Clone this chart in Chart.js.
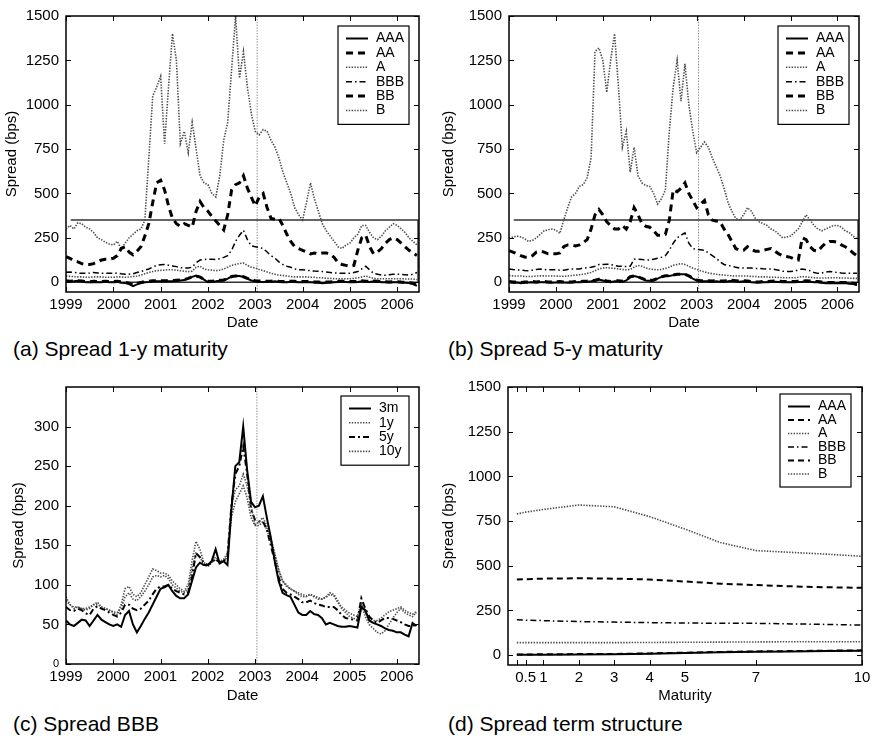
<!DOCTYPE html>
<html>
<head>
<meta charset="utf-8">
<script src="https://cdn.jsdelivr.net/npm/chart.js@4.4.1/dist/chart.umd.min.js"></script>
<style>
    body { margin: 0; background: #fff; width: 875px; height: 738px; position: relative; overflow: hidden; }
    canvas { position: absolute; }
    .caption { position: absolute; font-family: 'Liberation Sans', Arial, sans-serif; font-size: 21px; line-height: 24px; color: #000; white-space: nowrap; }
</style>
</head>
<body>
<canvas id="chartA" width="437" height="335" style="left:0;top:0"></canvas>
<canvas id="chartB" width="438" height="335" style="left:437px;top:0"></canvas>
<canvas id="chartC" width="437" height="338" style="left:0;top:370px"></canvas>
<canvas id="chartD" width="438" height="338" style="left:437px;top:370px"></canvas>
<div class="caption" style="left:13px;top:337px">(a) Spread 1-y maturity</div>
<div class="caption" style="left:448px;top:337px">(b) Spread 5-y maturity</div>
<div class="caption" style="left:13px;top:712px">(c) Spread BBB</div>
<div class="caption" style="left:448px;top:712px">(d) Spread term structure</div>
<script>
// ---- data (monthly, Jan 1999 - Jun 2006) ----
const startYear = 1999;
const monthCount = 90;
const yearTicks = [1999, 2000, 2001, 2002, 2003, 2004, 2005, 2006];
const spreadTicks = [0, 250, 500, 750, 1000, 1250, 1500];
const bbbTicks = [0, 50, 100, 150, 200, 250, 300];
const eventDate = 2003.04;
const zoomBoxX = [1999.1, 2006.44, 2006.44, 1999.0];
const zoomBoxY = [350, 350, 0, 0];

// (a) 1-y maturity
const aAAA = [5,3,5,8,5,0,0,2,0,0,3,0,
    0,2,-3,-5,-10,-22,-12,-5,0,2,5,5,
    5,5,5,5,8,10,12,20,30,37,30,15,
    0,3,5,8,10,20,32,35,35,30,20,10,
    5,3,2,3,3,5,2,0,0,3,2,0,
    0,0,0,-2,-3,-5,-3,-2,0,2,3,2,
    0,0,2,5,3,2,5,3,0,0,-2,0,
    0,-2,-3,-5,-10,-20];
const aAA = [8,6,7,9,7,4,3,5,4,4,6,4,
    4,5,2,0,-5,-14,-6,-1,4,6,8,9,
    9,9,9,9,11,13,15,22,30,35,29,17,
    5,6,8,11,13,22,32,35,35,31,22,13,
    9,7,6,6,6,8,5,4,4,6,5,4,
    4,4,4,2,1,0,1,2,4,5,6,5,
    4,4,5,8,6,5,7,6,4,3,2,3,
    3,1,0,-2,-6,-14];
const aA = [35,33,32,30,30,28,28,30,30,30,28,28,
    28,30,30,28,30,32,35,40,48,55,60,65,
    67,68,70,70,68,65,62,60,62,85,90,75,
    70,68,65,68,75,85,95,100,105,108,95,85,
    80,72,65,58,50,45,40,38,35,32,30,30,
    30,30,28,28,25,25,22,22,20,20,20,20,
    20,22,25,30,35,28,22,20,20,20,20,20,
    20,20,18,18,18,15];
const aBBB = [56,58,55,52,50,50,52,55,52,50,50,50,
    50,52,48,45,45,48,55,60,68,75,85,95,
    98,100,96,92,88,82,80,80,85,110,125,128,
    130,130,128,132,140,150,180,230,265,293,240,205,
    200,195,190,170,150,135,115,100,90,85,75,70,
    70,68,65,63,62,60,58,55,52,52,50,50,
    50,55,60,75,90,70,50,45,40,40,42,45,
    45,44,42,40,45,55];
const aBB = [145,135,120,115,105,100,100,105,115,125,130,130,
    135,150,190,200,170,155,175,200,260,330,450,560,
    575,520,430,360,330,315,330,320,310,400,455,420,
    400,370,345,320,295,380,520,550,560,600,530,480,
    430,480,500,420,360,355,360,320,270,230,200,190,
    180,170,160,165,160,165,165,160,140,110,100,95,
    90,95,180,250,265,200,160,170,190,220,240,250,
    240,220,200,180,165,150];
const aB = [300,320,300,335,330,310,300,280,250,240,225,215,
    210,230,190,220,250,270,290,300,350,700,1050,1100,
    1160,780,1100,1400,1250,780,850,730,900,750,600,560,
    550,500,480,600,800,900,1200,1500,1150,1300,1100,950,
    850,830,860,850,800,760,700,620,560,500,420,380,
    350,450,560,470,400,330,290,260,230,200,190,210,
    220,250,270,320,320,280,250,240,260,290,310,330,
    320,300,280,250,230,210];

// (b) 5-y maturity
const bAAA = [0,-3,-2,-5,-3,-2,0,-2,0,0,-2,-3,
    -2,0,-2,-3,-2,0,0,2,3,5,8,15,
    10,3,0,5,5,2,10,30,35,30,20,10,
    8,10,20,30,35,35,40,45,45,45,35,20,
    10,5,5,5,3,5,3,3,5,8,5,3,
    5,3,0,-2,-2,0,0,2,3,2,0,0,
    0,0,2,3,5,3,0,0,-3,-5,-5,-5,
    -5,-5,-5,-8,-10,-15];
const bAA = [4,1,2,-1,1,2,4,2,4,4,2,1,
    2,4,2,1,2,4,4,6,7,9,11,17,
    13,7,4,8,8,6,13,31,35,31,22,13,
    11,13,22,31,36,36,41,45,45,45,36,23,
    13,9,9,9,7,9,7,7,9,11,9,7,
    9,7,4,2,2,4,4,6,7,6,4,4,
    4,4,6,7,9,7,4,4,1,-1,-1,-1,
    -1,-1,-1,-4,-6,-11];
const bA = [38,36,35,35,33,32,33,35,36,36,35,35,
    35,34,33,35,38,40,42,45,50,55,65,75,
    80,82,80,78,75,72,70,72,85,95,90,80,
    75,72,70,72,78,85,95,100,105,100,90,80,
    72,65,58,52,48,45,42,40,38,36,35,35,
    35,35,33,32,30,30,30,28,28,27,26,25,
    25,25,28,32,30,28,25,24,24,24,25,25,
    25,24,24,23,22,22];
const bBBB = [75,72,70,68,66,65,68,72,74,72,70,70,
    70,68,68,72,75,75,75,80,82,85,90,100,
    100,102,100,95,90,90,88,90,130,130,128,125,
    125,130,135,140,150,180,220,250,265,278,220,190,
    185,183,180,165,150,135,115,100,95,90,85,80,
    80,80,80,78,78,76,75,75,72,68,62,60,
    60,62,70,75,70,65,55,50,52,58,60,58,
    55,52,50,50,50,50];
const bBB = [178,170,160,150,142,140,150,170,175,170,160,160,
    160,165,200,210,210,205,210,225,240,300,380,410,
    380,340,320,300,300,320,300,340,420,380,330,315,
    310,290,265,265,270,350,520,510,530,560,500,460,
    420,440,460,380,350,345,340,300,270,230,190,180,
    180,200,185,175,175,180,185,190,175,160,150,145,
    140,130,125,250,240,200,180,175,200,220,230,230,
    225,210,200,185,165,150];
const bB = [247,255,260,255,245,230,235,250,270,290,295,300,
    293,275,350,420,480,500,540,550,590,700,1300,1320,
    1250,1070,1250,1400,1100,760,850,620,760,600,560,545,
    540,500,440,470,520,850,1100,1250,1020,1230,1000,850,
    730,760,790,760,700,650,600,530,450,400,360,350,
    380,420,400,360,340,330,320,300,290,270,250,255,
    260,280,300,340,380,350,320,300,290,300,310,320,
    320,310,290,280,260,245];

// (c) BBB by maturity
const c3m = [55,50,48,52,56,55,48,55,62,56,53,50,
    48,50,47,62,67,50,40,48,57,65,75,85,
    95,97,100,92,86,83,83,88,105,122,128,125,
    125,130,145,127,130,125,195,250,255,300,245,205,
    198,200,212,185,160,130,105,90,87,85,75,65,
    62,62,67,63,62,58,50,52,50,48,47,47,
    48,47,46,72,68,55,52,50,48,45,43,42,
    40,40,37,35,52,48];
const c1y = [85,75,70,72,70,68,70,75,78,72,70,68,
    65,62,75,95,98,88,85,90,100,110,120,118,
    115,115,112,105,100,95,92,100,130,155,145,128,
    125,130,135,130,132,140,200,220,225,240,225,200,
    175,180,185,175,160,140,120,105,100,95,92,88,
    85,85,88,85,82,82,85,90,88,80,70,65,
    60,58,55,75,60,50,45,40,38,42,50,58,
    65,70,65,62,60,65];
const c5y = [72,68,67,70,68,64,62,70,73,70,68,65,
    62,60,65,75,75,70,68,70,75,80,88,95,
    98,98,100,95,92,90,88,90,110,140,135,128,
    125,128,133,128,130,135,200,240,250,275,240,195,
    182,180,180,170,150,130,110,95,90,88,85,82,
    78,78,80,77,75,74,72,72,72,68,62,58,
    57,56,55,83,70,60,55,52,55,58,58,57,
    55,53,50,48,48,50];
const c10y = [80,75,72,72,70,70,72,75,75,72,70,68,
    66,65,70,85,90,82,80,85,92,100,110,112,
    110,112,108,100,96,92,90,95,120,140,135,125,
    123,128,132,128,130,135,185,205,215,225,210,185,
    175,175,180,170,155,138,118,105,98,95,92,90,
    88,86,88,86,84,82,84,88,86,78,72,68,
    64,62,60,78,65,58,55,55,58,62,66,68,
    70,72,68,65,63,66];

// (d) term structure
const maturities = [0.25, 0.5, 1, 2, 3, 4, 5, 6, 7, 8, 9, 10];
const maturityTicks = [0.25, 0.5, 1, 2, 3, 4, 5, 7, 10];
const maturityLabels = ['', '0.5', '1', '2', '3', '4', '5', '7', '10'];
const dAAA = [2, 2, 3, 4, 5, 8, 12, 16, 19, 21, 23, 25];
const dAA = [4, 4, 5, 6, 7, 10, 14, 18, 21, 23, 25, 27];
const dA = [70, 70, 70, 70, 70, 71, 72, 73, 74, 75, 75, 75];
const dBBB = [198, 196, 193, 188, 185, 182, 180, 178, 178, 175, 172, 168];
const dBB = [423, 425, 428, 430, 428, 423, 412, 400, 392, 385, 380, 377];
const dB = [790, 800, 815, 840, 830, 775, 705, 630, 585, 575, 565, 553];

// ---- helpers ----
const dates = [];
for (let i = 0; i < monthCount; i++) dates.push(startYear + i / 12);

function points(xs, ys) {
    return xs.map((x, i) => ({ x: x, y: ys[i] }));
}

const solid = { borderColor: '#000', borderWidth: 2, borderDash: [] };
const heavyDash = { borderColor: '#000', borderWidth: 3, borderDash: [7, 5] };
const thinDash = { borderColor: '#000', borderWidth: 2, borderDash: [6, 4] };
const dotted = { borderColor: '#4a4a4a', borderWidth: 1.6, borderDash: [1.4, 1.4] };
const dashDot = { borderColor: '#000', borderWidth: 1.5, borderDash: [6, 3, 1.5, 3] };
const heavyDashDot = { borderColor: '#000', borderWidth: 2, borderDash: [6, 3, 2, 3] };

function line(label, xs, ys, style) {
    return { label: label, data: points(xs, ys), ...style };
}

Chart.defaults.font.family = "'Liberation Sans', Arial, sans-serif";
Chart.defaults.color = '#000';

// box legend inside the plot, top right
const boxLegend = {
    id: 'boxLegend',
    afterDraw(chart, args, opts) {
        const items = chart.data.datasets.filter(d => d.label);
        const ctx = chart.ctx;
        const area = chart.chartArea;
        const x0 = area.right - opts.right - opts.width;
        const y0 = area.top + opts.top;
        const h = items.length * opts.row + 12;
        ctx.save();
        ctx.fillStyle = '#fff';
        ctx.fillRect(x0, y0, opts.width, h);
        ctx.strokeStyle = '#000';
        ctx.lineWidth = 1.2;
        ctx.strokeRect(x0, y0, opts.width, h);
        items.forEach((d, i) => {
            const y = y0 + 12.5 + i * opts.row;
            ctx.setLineDash(d.borderDash || []);
            ctx.lineWidth = d.borderWidth;
            ctx.strokeStyle = d.borderColor;
            ctx.beginPath();
            ctx.moveTo(x0 + 8, y);
            ctx.lineTo(x0 + 30, y);
            ctx.stroke();
            ctx.setLineDash([]);
            ctx.fillStyle = '#000';
            ctx.font = "14px 'Liberation Sans', Arial, sans-serif";
            ctx.textBaseline = 'middle';
            ctx.fillText(d.label, x0 + 38, y);
        });
        ctx.restore();
    }
};

// matlab style frame with inward ticks
const frame = {
    id: 'frame',
    afterDatasetsDraw(chart) {
        const ctx = chart.ctx;
        const a = chart.chartArea;
        const xs = chart.scales.x, ys = chart.scales.y;
        ctx.save();
        ctx.strokeStyle = '#000';
        ctx.lineWidth = 1;
        ctx.beginPath();
        xs.ticks.forEach(t => {
            const px = Math.round(xs.getPixelForValue(t.value)) + 0.5;
            ctx.moveTo(px, a.bottom); ctx.lineTo(px, a.bottom - 5);
            ctx.moveTo(px, a.top); ctx.lineTo(px, a.top + 5);
        });
        ys.ticks.forEach(t => {
            const py = Math.round(ys.getPixelForValue(t.value)) + 0.5;
            ctx.moveTo(a.left, py); ctx.lineTo(a.left + 5, py);
            ctx.moveTo(a.right, py); ctx.lineTo(a.right - 5, py);
        });
        ctx.stroke();
        ctx.lineWidth = 1.5;
        ctx.strokeRect(a.left, a.top, a.right - a.left, a.bottom - a.top);
        ctx.restore();
    }
};

function panelOptions(p) {
    return {
        responsive: false,
        animation: false,
        devicePixelRatio: 1,
        layout: { padding: { top: p.padTop, right: p.padRight, left: 0, bottom: 0 } },
        elements: { line: { tension: 0, fill: false }, point: { radius: 0 } },
        plugins: {
            legend: { display: false },
            tooltip: { enabled: false },
            boxLegend: p.legend
        },
        scales: {
            x: {
                type: 'linear',
                min: p.xMin,
                max: p.xMax,
                grid: { display: false, drawTicks: false },
                border: { display: false },
                afterBuildTicks: s => { s.ticks = p.xTicks.map(v => ({ value: v })); },
                afterFit: s => { s.height = p.xHeight; },
                ticks: { autoSkip: false, maxRotation: 0, padding: 4, font: { size: 15 }, callback: p.xLabel },
                title: { display: true, text: p.xTitle, font: { size: 15 }, padding: { top: 0, bottom: 3 } }
            },
            y: {
                min: p.yMin,
                max: p.yMax,
                grid: { display: false, drawTicks: false },
                border: { display: false },
                afterBuildTicks: s => { s.ticks = p.yTicks.map(v => ({ value: v })); },
                afterFit: s => { s.width = p.yWidth; },
                ticks: { autoSkip: false, padding: 7, font: p.yFont || { size: 15 }, callback: v => String(v) },
                title: { display: true, text: 'Spread (bps)', font: { size: 15 }, padding: { top: p.yTitlePad, bottom: 0 } }
            }
        }
    };
}

const yearLabel = v => String(v);
const ratingLegend = { right: 10, top: 10, width: 71, row: 14.4 };

function ratingChart(id, AAA, AA, A, BBB, BB, B, yWidth, padRight) {
    return new Chart(document.getElementById(id), {
        type: 'line',
        data: {
            datasets: [
                line('AAA', dates, AAA, solid),
                line('AA', dates, AA, heavyDash),
                line('A', dates, A, dotted),
                line('BBB', dates, BBB, dashDot),
                line('BB', dates, BB, heavyDash),
                line('B', dates, B, dotted),
                { data: points(zoomBoxX, zoomBoxY), borderColor: '#333', borderWidth: 1.5 },
                { data: points([eventDate, eventDate], [-55, 1500]), ...dotted, borderColor: '#888', borderWidth: 1 }
            ]
        },
        options: panelOptions({
            padTop: 13, padRight: padRight, xHeight: 43, yWidth: yWidth, yTitlePad: 3,
            xMin: 1999, xMax: 2006.46, xTicks: yearTicks, xLabel: yearLabel, xTitle: 'Date',
            yMin: -55, yMax: 1500, yTicks: spreadTicks, legend: ratingLegend
        }),
        plugins: [frame, boxLegend]
    });
}

ratingChart('chartA', aAAA, aAA, aA, aBBB, aBB, aB, 66, 18);
ratingChart('chartB', bAAA, bAA, bA, bBBB, bBB, bB, 72, 16);

new Chart(document.getElementById('chartC'), {
    type: 'line',
    data: {
        datasets: [
            line('3m', dates, c3m, solid),
            line('1y', dates, c1y, dotted),
            line('5y', dates, c5y, heavyDashDot),
            line('10y', dates, c10y, dotted),
            { data: points([eventDate, eventDate], [0, 350]), ...dotted, borderColor: '#888', borderWidth: 1 }
        ]
    },
    options: panelOptions({
        padTop: 17, padRight: 18, xHeight: 44, yWidth: 66, yTitlePad: 10,
        xMin: 1999, xMax: 2006.47, xTicks: yearTicks, xLabel: yearLabel, xTitle: 'Date',
        yMin: 0, yMax: 350, yTicks: bbbTicks,
        yFont: ctx => ({ size: ctx.tick && ctx.tick.value === 0 ? 11 : 15 }),
        legend: { right: 10, top: 9, width: 68, row: 14.3 }
    }),
    plugins: [frame, boxLegend]
});

new Chart(document.getElementById('chartD'), {
    type: 'line',
    data: {
        datasets: [
            line('AAA', maturities, dAAA, solid),
            line('AA', maturities, dAA, thinDash),
            line('A', maturities, dA, dotted),
            line('BBB', maturities, dBBB, dashDot),
            line('BB', maturities, dBB, thinDash),
            line('B', maturities, dB, dotted)
        ]
    },
    options: panelOptions({
        padTop: 17, padRight: 13, xHeight: 43, yWidth: 71, yTitlePad: 3,
        xMin: 0, xMax: 10, xTicks: maturityTicks,
        xLabel: v => maturityLabels[maturityTicks.indexOf(v)], xTitle: 'Maturity',
        yMin: -55, yMax: 1500, yTicks: spreadTicks,
        legend: { right: 11, top: 7, width: 71, row: 13.5 }
    }),
    plugins: [frame, boxLegend]
});
</script>
</body>
</html>
